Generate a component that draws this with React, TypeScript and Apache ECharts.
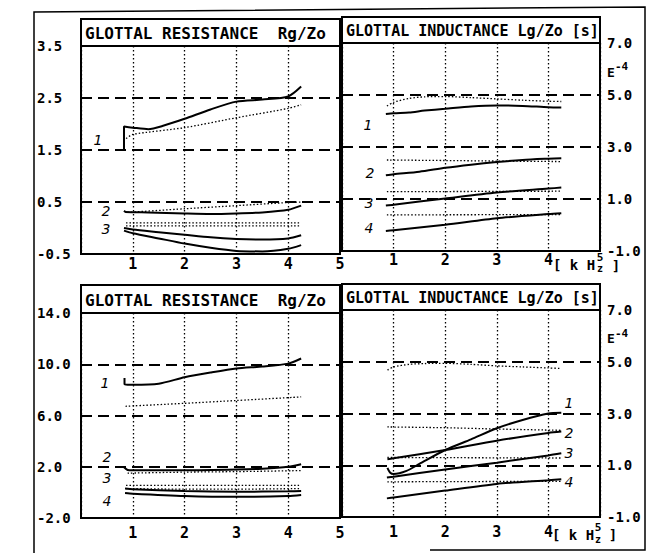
import React, { useEffect, useRef } from "react";
import * as echarts from "echarts";

// ---------- tick values ----------
const xTicks = [0, 1, 2, 3, 4, 5];
const topLeftTicks = [-0.5, 0.5, 1.5, 2.5, 3.5];
const topRightTicks = [-1, 1, 3, 5, 7];
const botLeftTicks = [-2, 2, 6, 10, 14];
const botRightTicks = [-1, 1, 3, 5, 7];

// ---------- titles / labels ----------
const titleResistance = "GLOTTAL RESISTANCE  Rg/Zo";
const titleInductance = "GLOTTAL INDUCTANCE Lg/Zo [s]";
const curveNames = ["1", "2", "3", "4"];
const exponentBase = "E";
const exponentPower = "-4";
const unitText = "[ k H";
const unitZ = "z";
const unitFive = "5";
const unitClose = "]";

// ---------- top-left: glottal resistance (case A) ----------
const tlR1 = [[0.83, 1.5], [0.83, 1.95], [1.0, 1.93], [1.3, 1.9], [1.6, 1.97], [2.0, 2.1], [2.5, 2.28], [3.0, 2.43], [3.5, 2.47], [4.0, 2.53], [4.25, 2.72]];
const tlR1d = [[0.87, 1.72], [1.0, 1.8], [2.0, 1.93], [3.0, 2.12], [4.0, 2.3], [4.25, 2.37]];
const tlR2 = [[0.83, 0.33], [0.86, 0.31], [1.3, 0.3], [2.0, 0.28], [2.5, 0.27], [3.0, 0.28], [3.5, 0.3], [4.0, 0.35], [4.25, 0.43]];
const tlR2d = [[0.9, 0.3], [2.0, 0.37], [3.0, 0.43], [4.0, 0.49], [4.25, 0.5]];
const tlR3d = [[0.87, 0.1], [4.25, 0.1]];
const tlR4d = [[0.87, 0.04], [4.25, 0.04]];
const tlR3 = [[0.83, 0.0], [1.0, -0.03], [1.5, -0.08], [2.0, -0.13], [2.5, -0.18], [3.0, -0.21], [3.5, -0.22], [4.0, -0.2], [4.25, -0.14]];
const tlR4 = [[0.83, -0.05], [1.0, -0.1], [1.5, -0.2], [2.0, -0.3], [2.5, -0.38], [3.0, -0.44], [3.5, -0.45], [4.0, -0.4], [4.25, -0.33]];

// ---------- top-right: glottal inductance (case A) ----------
const trL1 = [[0.85, 4.27], [1.0, 4.3], [1.3, 4.33], [1.6, 4.4], [2.0, 4.47], [2.5, 4.56], [3.0, 4.6], [3.5, 4.58], [4.0, 4.53], [4.25, 4.52]];
const trL1d = [[0.87, 4.58], [1.0, 4.72], [1.3, 4.87], [1.6, 4.93], [2.0, 4.94], [2.5, 4.9], [3.0, 4.85], [3.5, 4.8], [4.0, 4.76], [4.25, 4.75]];
const trL2 = [[0.85, 1.91], [1.0, 1.95], [1.5, 2.05], [2.0, 2.2], [2.5, 2.32], [3.0, 2.42], [3.5, 2.5], [4.0, 2.55], [4.25, 2.57]];
const trL2d = [[0.87, 2.5], [2.0, 2.48], [3.0, 2.46], [4.25, 2.44]];
const trL3 = [[0.85, 0.75], [1.0, 0.78], [2.0, 1.02], [3.0, 1.25], [4.0, 1.4], [4.25, 1.44]];
const trL3d = [[0.87, 1.28], [4.25, 1.3]];
const trL4 = [[0.85, -0.23], [1.0, -0.2], [2.0, 0.01], [3.0, 0.26], [4.0, 0.42], [4.25, 0.45]];
const trL4d = [[0.87, 0.39], [4.25, 0.4]];

// ---------- bottom-left: glottal resistance (case B) ----------
const blR1 = [[0.84, 8.92], [0.84, 8.45], [0.9, 8.4], [1.0, 8.4], [1.5, 8.48], [2.0, 8.98], [2.5, 9.35], [3.0, 9.67], [3.5, 9.82], [4.0, 10.05], [4.25, 10.45]];
const blR1d = [[0.86, 6.72], [2.0, 6.95], [3.0, 7.17], [4.25, 7.45]];
const blR2 = [[0.82, 2.0], [0.9, 1.75], [1.0, 1.72], [2.0, 1.72], [3.0, 1.78], [3.5, 1.85], [4.0, 2.0], [4.25, 2.2]];
const blR2d = [[0.9, 1.5], [2.0, 1.58], [3.0, 1.62], [4.25, 1.7]];
const blR3d = [[0.87, 0.55], [4.25, 0.55]];
const blR3 = [[0.85, 0.3], [1.0, 0.25], [2.0, 0.1], [3.0, 0.05], [4.0, 0.08], [4.25, 0.1]];
const blR4d = [[0.87, 0.3], [2.0, 0.25], [3.0, 0.25], [4.25, 0.3]];
const blR4 = [[0.85, -0.05], [1.0, -0.1], [2.0, -0.28], [3.0, -0.35], [4.0, -0.28], [4.25, -0.2]];

// ---------- bottom-right: glottal inductance (case B) ----------
const brL1 = [[0.88, 0.9], [0.93, 0.72], [1.0, 0.66], [1.25, 0.78], [1.5, 1.05], [2.0, 1.59], [2.5, 2.0], [3.0, 2.43], [3.5, 2.75], [4.0, 3.0], [4.25, 3.03]];
const brL1d = [[0.88, 4.68], [1.0, 4.8], [1.3, 4.9], [1.6, 4.93], [2.0, 4.94], [2.5, 4.9], [3.0, 4.84], [3.5, 4.8], [4.0, 4.76], [4.25, 4.74]];
const brL2 = [[0.88, 1.23], [1.0, 1.27], [2.0, 1.59], [3.0, 1.95], [4.0, 2.25], [4.25, 2.3]];
const brL2d = [[0.88, 2.48], [2.0, 2.45], [3.0, 2.4], [4.25, 2.35]];
const brL3 = [[0.87, 0.53], [1.0, 0.56], [2.0, 0.84], [3.0, 1.1], [4.0, 1.38], [4.25, 1.46]];
const brL3d = [[0.88, 1.3], [4.25, 1.28]];
const brL4 = [[0.87, -0.28], [1.0, -0.25], [2.0, 0.02], [3.0, 0.28], [4.0, 0.42], [4.25, 0.46]];
const brL4d = [[0.88, 0.36], [4.25, 0.38]];

const MONO = '"DejaVu Sans Mono", "Liberation Mono", monospace';
const ITAL = '"DejaVu Sans", sans-serif';

function buildOption() {
  const grids = [
    { left: 81, top: 46, width: 259, height: 208 },
    { left: 342, top: 43, width: 258, height: 208 },
    { left: 81, top: 313, width: 259, height: 205 },
    { left: 342, top: 310, width: 258, height: 207 },
  ].map((g) => ({ ...g, show: true, borderColor: "#000", borderWidth: 2, backgroundColor: "transparent", containLabel: false }));

  const xMargins = [2, 1, 7, 7];
  const xAxis = grids.map((_, i) => ({
    type: "value",
    gridIndex: i,
    min: xTicks[0],
    max: xTicks[xTicks.length - 1],
    interval: xTicks[1] - xTicks[0],
    axisLine: { show: false },
    axisTick: { show: false },
    splitLine: { show: true, lineStyle: { color: "#000", width: 1.3, type: [1.5, 2.5] } },
    axisLabel: {
      margin: xMargins[i],
      color: "#000",
      fontFamily: MONO,
      fontWeight: "bold",
      fontSize: 15,
      hideOverlap: false,
      formatter: (v: number) => (v === 0 ? "" : i % 2 === 1 && v === 5 ? "" : String(v)),
    },
  }));

  const tickSets = [topLeftTicks, topRightTicks, botLeftTicks, botRightTicks];
  const yAxis = tickSets.map((t, i) => ({
    type: "value",
    gridIndex: i,
    min: t[0],
    max: t[t.length - 1],
    interval: t[1] - t[0],
    position: i % 2 === 0 ? "left" : "right",
    axisLine: { show: false },
    axisTick: { show: false },
    splitLine: { show: true, lineStyle: { color: "#000", width: 2, type: [11, 6] } },
    axisLabel: {
      margin: i % 2 === 0 ? 44 : 7,
      align: "left",
      color: "#000",
      fontFamily: MONO,
      fontWeight: "bold",
      fontSize: 14,
      showMinLabel: true,
      showMaxLabel: true,
      formatter: (v: number) => v.toFixed(1),
    },
  }));

  const solid = (data: number[][], gi: number) => ({
    type: "line",
    xAxisIndex: gi,
    yAxisIndex: gi,
    data,
    symbol: "none",
    smooth: 0.25,
    silent: true,
    z: 4,
    lineStyle: { color: "#000", width: 2 },
  });
  const dotted = (data: number[][], gi: number) => ({
    type: "line",
    xAxisIndex: gi,
    yAxisIndex: gi,
    data,
    symbol: "none",
    smooth: 0.25,
    silent: true,
    z: 3,
    lineStyle: { color: "#000", width: 1.3, type: [1.5, 2] },
  });

  const series = [
    solid(tlR1, 0), dotted(tlR1d, 0), solid(tlR2, 0), dotted(tlR2d, 0), dotted(tlR3d, 0), dotted(tlR4d, 0), solid(tlR3, 0), solid(tlR4, 0),
    solid(trL1, 1), dotted(trL1d, 1), solid(trL2, 1), dotted(trL2d, 1), solid(trL3, 1), dotted(trL3d, 1), solid(trL4, 1), dotted(trL4d, 1),
    solid(blR1, 2), dotted(blR1d, 2), solid(blR2, 2), dotted(blR2d, 2), dotted(blR3d, 2), solid(blR3, 2), dotted(blR4d, 2), solid(blR4, 2),
    solid(brL1, 3), dotted(brL1d, 3), solid(brL2, 3), dotted(brL2d, 3), solid(brL3, 3), dotted(brL3d, 3), solid(brL4, 3), dotted(brL4d, 3),
  ];

  const titleBox = (x: number, y: number, w: number, h: number, text: string, size: number) => [
    { type: "rect", shape: { x, y, width: w, height: h }, style: { fill: "#fff", stroke: "#000", lineWidth: 2 }, z: 10 },
    {
      type: "text", x: x + 4, y: y + h / 2 + 1, z: 11,
      style: { text, font: `bold ${size}px ${MONO}`, fill: "#000", textAlign: "left", textVerticalAlign: "middle" },
    },
  ];

  const label = (t: string, x: number, y: number) => ({
    type: "text", x, y, z: 11,
    style: { text: t, font: `italic 14px ${ITAL}`, fill: "#000", textAlign: "center", textVerticalAlign: "middle" },
  });

  const small = (t: string, x: number, y: number, size: number, align = "left") => ({
    type: "text", x, y, z: 11,
    style: { text: t, font: `bold ${size}px ${MONO}`, fill: "#000", textAlign: align, textVerticalAlign: "middle" },
  });

  const graphic = [
    { type: "polyline", shape: { points: [[34, 553], [34, 12], [645, 7], [645, 550], [430, 550]] }, style: { stroke: "#000", lineWidth: 1.5, fill: "none" }, z: 1 },
    ...titleBox(81, 19, 259, 27, titleResistance, 16),
    ...titleBox(342, 17, 258, 26, titleInductance, 15),
    ...titleBox(81, 285, 259, 28, titleResistance, 16),
    ...titleBox(342, 284, 258, 26, titleInductance, 15),
    // curve numbers
    label(curveNames[0], 98, 140), label(curveNames[1], 106, 211), label(curveNames[2], 106, 229),
    label(curveNames[0], 368, 125), label(curveNames[1], 370, 173), label(curveNames[2], 369, 203), label(curveNames[3], 369, 228),
    label(curveNames[0], 105, 383), label(curveNames[1], 107, 457), label(curveNames[2], 107, 478), label(curveNames[3], 107, 501),
    label(curveNames[0], 569, 403), label(curveNames[1], 569, 433), label(curveNames[2], 569, 453), label(curveNames[3], 569, 482),
    // exponent
    small(exponentBase, 607, 72, 13), small(exponentPower, 615, 66, 11),
    small(exponentBase, 607, 338, 13), small(exponentPower, 615, 333, 11),
    // unit top
    small(unitText, 553, 265, 14), small(unitZ, 600, 268, 10, "center"), small(unitFive, 600, 257, 11, "center"), small(unitClose, 616, 266, 14, "center"),
    // unit bottom
    small(unitText, 552, 535, 14), small(unitZ, 598, 539, 10, "center"), small(unitFive, 598, 527, 11, "center"), small(unitClose, 613, 535, 14, "center"),
  ];

  return {
    animation: false,
    backgroundColor: "#fff",
    textStyle: { fontFamily: MONO },
    grid: grids,
    xAxis,
    yAxis,
    series,
    graphic,
  };
}

export default function App() {
  const ref = useRef<HTMLDivElement>(null);
  useEffect(() => {
    document.body.style.margin = "0";
    const chart = echarts.init(ref.current!, null, { renderer: "svg" });
    chart.setOption(buildOption() as any);
    return () => chart.dispose();
  }, []);
  return <div ref={ref} style={{ width: 661, height: 553 }} />;
}
